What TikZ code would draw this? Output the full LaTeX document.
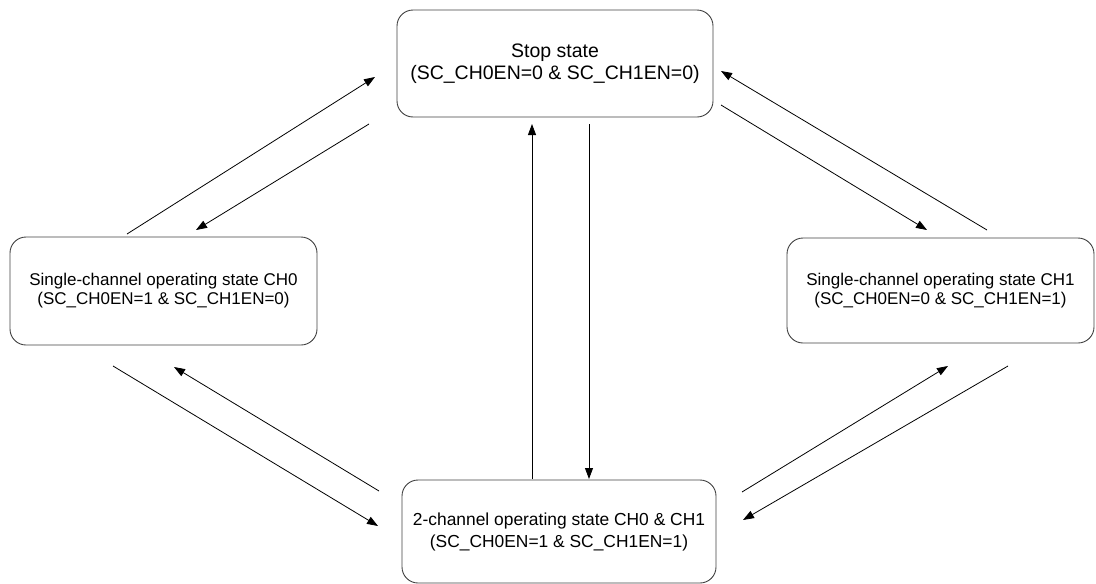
\documentclass[tikz,border=0pt]{standalone}
\usepackage{fontspec}
\setmainfont{Liberation Sans}
\usetikzlibrary{arrows.meta}
\begin{document}
\begin{tikzpicture}[x=1pt,y=-1pt,
  statebox/.style={draw=black!75, line width=0.9pt, rounded corners=16pt, align=center, inner sep=0pt},
  conn/.style={line width=0.8pt, -{Triangle[length=11pt,width=8pt]}}]
\useasboundingbox (0,0) rectangle (1096,584);
\node[statebox, minimum width=316pt, minimum height=107pt, font=\fontsize{19.5}{22}\selectfont] (stop) at (555,63.5) {Stop state\\(SC\_CH0EN=0 \& SC\_CH1EN=0)};
\node[statebox, minimum width=307pt, minimum height=108pt, font=\fontsize{17}{19}\selectfont] (left) at (163.5,291) {Single-channel operating state CH0\\(SC\_CH0EN=1 \& SC\_CH1EN=0)};
\node[statebox, minimum width=307pt, minimum height=105pt, font=\fontsize{17}{19}\selectfont] (right) at (940.5,290.5) {Single-channel operating state CH1\\(SC\_CH0EN=0 \& SC\_CH1EN=1)};
\node[statebox, minimum width=314pt, minimum height=103pt, font=\fontsize{17.4}{22}\selectfont] (bottom) at (559,531.5) {2-channel operating state CH0 \& CH1\\(SC\_CH0EN=1 \& SC\_CH1EN=1)};
% endpoints
\coordinate (a1) at (127,234); \coordinate (b1) at (375,77);
\coordinate (a2) at (369,124); \coordinate (b2) at (196,230);
\coordinate (a3) at (113,366); \coordinate (b3) at (378,526);
\coordinate (a4) at (379,491); \coordinate (b4) at (174,367);
\coordinate (a5) at (532,479); \coordinate (b5) at (532,124);
\coordinate (a6) at (589,124); \coordinate (b6) at (589,479);
\coordinate (a7) at (987,230); \coordinate (b7) at (721,71);
\coordinate (a8) at (721,105); \coordinate (b8) at (927,230);
\coordinate (a9) at (742,492); \coordinate (b9) at (948,366);
\coordinate (a10) at (1008,366); \coordinate (b10) at (743,520);
\draw[conn] (a1) -- (b1);
\draw[conn] (a2) -- (b2);
\draw[conn] (a3) -- (b3);
\draw[conn] (a4) -- (b4);
\draw[conn] (a5) -- (b5);
\draw[conn] (a6) -- (b6);
\draw[conn] (a7) -- (b7);
\draw[conn] (a8) -- (b8);
\draw[conn] (a9) -- (b9);
\draw[conn] (a10) -- (b10);
\end{tikzpicture}
\end{document}
